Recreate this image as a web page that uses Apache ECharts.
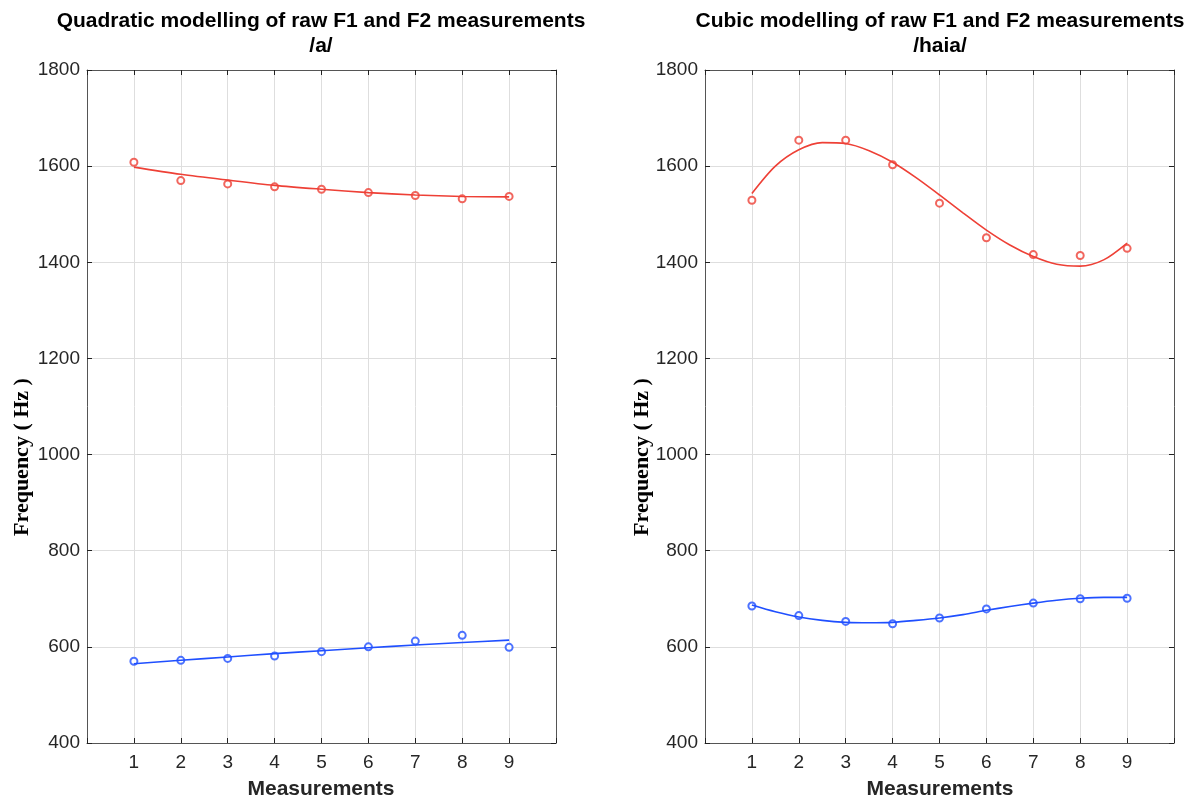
<!DOCTYPE html>
<html>
<head>
<meta charset="utf-8">
<script src="https://cdn.jsdelivr.net/npm/echarts@6/dist/echarts.min.js"></script>
<style>html,body{margin:0;padding:0;background:#fff;}#c{width:1198px;height:798px;}</style>
</head>
<body>
<div id="c"></div>
<script>
// ---- data ----
const measurements = [1, 2, 3, 4, 5, 6, 7, 8, 9];
const yTicks = [400, 600, 800, 1000, 1200, 1400, 1600, 1800];

// Left panel: quadratic modelling, /a/
const quadF2Raw = [1608, 1570, 1563, 1557, 1552, 1545, 1539, 1532, 1537];
const quadF1Raw = [570, 572, 576, 581, 590, 600, 612, 624, 599];
const quadFitX = [1, 2, 3, 4, 5, 6, 7, 8, 9];
const quadF2Fit = [1598, 1583, 1571, 1560, 1552, 1545, 1540, 1537, 1536];
const quadF1Fit = [565, 572, 579, 586, 592, 598, 604, 609, 614];

// Right panel: cubic modelling, /haia/
const cubicF2Raw = [1529, 1654, 1654, 1603, 1523, 1451, 1416, 1414, 1429];
const cubicF1Raw = [685, 665, 653, 648, 660, 679, 691, 700, 701];
const cubicFitX = [1, 1.5, 2, 2.5, 3, 3.5, 4, 4.5, 5, 5.5, 6, 6.5, 7, 7.5, 8, 8.5, 9];
const cubicF2Fit = [1543, 1600, 1634, 1649, 1647, 1632, 1608, 1576, 1540, 1503, 1467, 1436, 1412, 1396, 1392, 1405, 1440];
const cubicF1Fit = [687, 673, 662, 655, 651, 650, 651, 655, 660, 667, 676, 684, 691, 697, 701, 703, 703];

const titles = [
  ['Quadratic modelling of raw F1 and F2 measurements', '/a/'],
  ['Cubic modelling of raw F1 and F2 measurements', '/haia/']
];
const xName = 'Measurements';
const yName = 'Frequency ( Hz )';

// ---- styles ----
const RED = '#ee4036';
const BLUE = '#1f4fff';
const BOX = '#555';
const SANS = '"Liberation Sans", Arial, Helvetica, sans-serif';
const SERIF = '"Liberation Serif", "Times New Roman", serif';

const pair = (xs, ys) => xs.map((x, i) => [x, ys[i]]);

const grids = [
  { left: 87, right: 642, top: 70, bottom: 55 },
  { left: 705, right: 24, top: 70, bottom: 55 }
];

function xAxes(gi) {
  return [
    {
      type: 'value', gridIndex: gi, position: 'bottom', min: 0, max: 10, interval: 1,
      axisLine: { show: true, onZero: false, lineStyle: { color: BOX, width: 1 } },
      axisTick: { show: true, inside: true, length: 5, lineStyle: { color: '#222' } },
      axisLabel: {
        show: true, margin: 10, fontSize: 19, color: '#262626', fontFamily: SANS,
        formatter: v => (measurements.indexOf(v) >= 0 ? String(v) : '')
      },
      splitLine: { show: true, lineStyle: { color: '#dedede', width: 1 } }
    },
    {
      type: 'value', gridIndex: gi, position: 'top', min: 0, max: 10, interval: 1,
      axisLine: { show: true, onZero: false, lineStyle: { color: BOX, width: 1 } },
      axisTick: { show: true, inside: true, length: 5, lineStyle: { color: '#222' } },
      axisLabel: { show: false },
      splitLine: { show: false }
    }
  ];
}
function yAxes(gi) {
  return [
    {
      type: 'value', gridIndex: gi, position: 'left', min: yTicks[0], max: yTicks[yTicks.length - 1], interval: 200,
      axisLine: { show: true, onZero: false, lineStyle: { color: BOX, width: 1 } },
      axisTick: { show: true, inside: true, length: 5, lineStyle: { color: '#222' } },
      axisLabel: { show: true, margin: 7, fontSize: 19, color: '#262626', fontFamily: SANS, formatter: v => String(v) },
      splitLine: { show: true, lineStyle: { color: '#dedede', width: 1 } }
    },
    {
      type: 'value', gridIndex: gi, position: 'right', min: yTicks[0], max: yTicks[yTicks.length - 1], interval: 200,
      axisLine: { show: true, onZero: false, lineStyle: { color: BOX, width: 1 } },
      axisTick: { show: true, inside: true, length: 5, lineStyle: { color: '#222' } },
      axisLabel: { show: false },
      splitLine: { show: false }
    }
  ];
}

function scatter(ax, data, color) {
  return {
    type: 'scatter', xAxisIndex: ax.x, yAxisIndex: ax.y, data,
    symbol: 'emptyCircle', symbolSize: 7,
    itemStyle: { color: color, borderColor: color, borderWidth: 1, opacity: 0.8 },
    z: 3
  };
}
function fit(ax, data, color) {
  return {
    type: 'line', xAxisIndex: ax.x, yAxisIndex: ax.y, data,
    smooth: 0.3, showSymbol: false, symbol: 'none',
    lineStyle: { color: color, width: 1.6 },
    z: 4
  };
}

const L = { x: 0, y: 0 }, R = { x: 2, y: 2 };

const series = [
  fit(L, pair(quadFitX, quadF2Fit), RED),
  scatter(L, pair(measurements, quadF2Raw), RED),
  fit(L, pair(quadFitX, quadF1Fit), BLUE),
  scatter(L, pair(measurements, quadF1Raw), BLUE),
  fit(R, pair(cubicFitX, cubicF2Fit), RED),
  scatter(R, pair(measurements, cubicF2Raw), RED),
  fit(R, pair(cubicFitX, cubicF1Fit), BLUE),
  scatter(R, pair(measurements, cubicF1Raw), BLUE)
];

const centers = [321, 940];
const yNameX = [22, 642];
const graphics = [];
centers.forEach((cx, i) => {
  graphics.push({ type: 'text', x: cx, y: 21, style: { text: titles[i][0], textAlign: 'center', textVerticalAlign: 'middle', fontSize: 21, fontWeight: 'bold', fontFamily: SANS, fill: '#000' } });
  graphics.push({ type: 'text', x: cx, y: 46, style: { text: titles[i][1], textAlign: 'center', textVerticalAlign: 'middle', fontSize: 21, fontWeight: 'bold', fontFamily: SANS, fill: '#000' } });
  graphics.push({ type: 'text', x: cx, y: 789, style: { text: xName, textAlign: 'center', textVerticalAlign: 'middle', fontSize: 21, fontWeight: 'bold', fontFamily: SANS, fill: '#262626' } });
  graphics.push({ type: 'text', x: yNameX[i], y: 457, rotation: Math.PI / 2, style: { text: yName, textAlign: 'center', textVerticalAlign: 'middle', fontSize: 22, fontWeight: 'bold', fontFamily: SERIF, fill: '#000' } });
});

const chart = echarts.init(document.getElementById('c'), null, { renderer: 'canvas' });
chart.setOption({
  backgroundColor: '#ffffff',
  animation: false,
  grid: grids,
  xAxis: [...xAxes(0), ...xAxes(1)],
  yAxis: [...yAxes(0), ...yAxes(1)],
  series,
  graphic: graphics
});
</script>
</body>
</html>
